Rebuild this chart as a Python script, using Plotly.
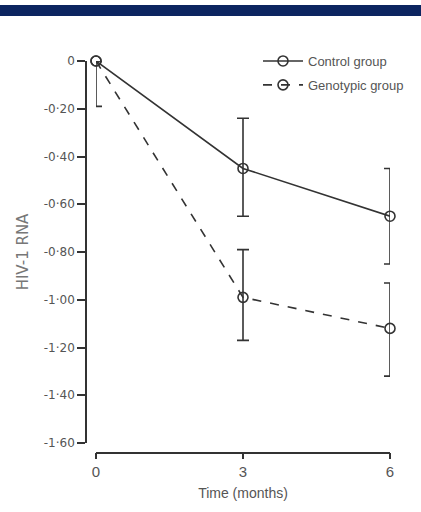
import plotly.graph_objects as go

months = [0, 3, 6]
control = [0.0, -0.45, -0.65]
control_err_plus = [0.0, 0.21, 0.2]
control_err_minus = [0.0, 0.2, 0.2]
genotypic = [0.0, -0.99, -1.12]
geno_err_plus = [0.0, 0.2, 0.19]
geno_err_minus = [0.19, 0.18, 0.2]
y_ticks = [0, -0.2, -0.4, -0.6, -0.8, -1.0, -1.2, -1.4, -1.6]
y_labels = ["0", "-0·20", "-0·40", "-0·60", "-0·80", "-1·00", "-1·20", "-1·40", "-1·60"]
x_ticks = [0, 3, 6]
x_labels = ["0", "3", "6"]

W, H = 421, 512
ML, MR, MT, MB = 60, 20, 40, 40
PW, PH = W - ML - MR, H - MT - MB

def px(x):
    return (x - ML) / PW

def py(y):
    return (H - MB - y) / PH

ink = "#333333"
txt = "#555555"
sans = "Liberation Sans"
wide = "DejaVu Sans"

fig = go.Figure()
fig.add_trace(go.Scatter(
    x=months, y=control, name="Control group", mode="lines+markers",
    legendgroup="a", cliponaxis=False,
    line=dict(color=ink, width=1.6, dash="solid"),
    marker=dict(symbol="circle-open", size=10, color=ink, line=dict(width=1.6)),
    error_y=dict(type="data", symmetric=False, array=control_err_plus,
                 arrayminus=control_err_minus, color=ink, thickness=1.6, width=6),
))
fig.add_trace(go.Scatter(
    x=months, y=genotypic, name="Genotypic group", mode="lines+markers",
    legendgroup="b", cliponaxis=False,
    line=dict(color=ink, width=1.6, dash="dash"),
    marker=dict(symbol="circle-open", size=10, color=ink, line=dict(width=1.6)),
    error_y=dict(type="data", symmetric=False, array=geno_err_plus,
                 arrayminus=geno_err_minus, color=ink, thickness=1.6, width=6),
))

fig.update_layout(
    width=W, height=H,
    margin=dict(l=ML, r=MR, t=MT, b=MB, autoexpand=False),
    paper_bgcolor="white", plot_bgcolor="white",
    font=dict(family=sans, color=txt, size=12),
    showlegend=True,
    legend=dict(x=px(258), y=py(46), xanchor="left", yanchor="top",
                bgcolor="rgba(0,0,0,0)", font=dict(size=13, color=txt, family=sans),
                tracegroupgap=4, traceorder="grouped", itemwidth=40),
    xaxis=dict(range=[0, 6], domain=[px(96), px(390)], anchor="free", position=py(452.5),
               showline=True, linecolor=ink, linewidth=1.6, ticks="outside", ticklen=6,
               tickwidth=1.6, tickcolor=ink, tickvals=x_ticks, ticktext=x_labels,
               showgrid=False, zeroline=False, automargin=False,
               tickfont=dict(size=15, color=txt, family=sans),
               title=dict(text="Time (months)", font=dict(size=14, color=txt, family=sans), standoff=8)),
    yaxis=dict(range=[-1.6, 0], domain=[py(443), py(61)], anchor="free", position=px(86),
               showline=True, linecolor=ink, linewidth=1.6, ticks="outside", ticklen=8,
               tickwidth=1.6, tickcolor=ink, tickvals=y_ticks, ticktext=y_labels,
               showgrid=False, zeroline=False, automargin=False,
               tickfont=dict(size=12, color=txt, family=wide),
               title=dict(text="HIV-1 RNA", font=dict(size=15, color="#777777", family=wide), standoff=10)),
    shapes=[dict(type="rect", xref="paper", yref="paper",
                 x0=px(0), x1=px(W), y0=py(16), y1=py(5),
                 fillcolor="#0c2560", line=dict(width=0), layer="above")],
)

fig.write_html("out.html", config={"displayModeBar": False},
               post_script="document.body.style.margin='0';")
